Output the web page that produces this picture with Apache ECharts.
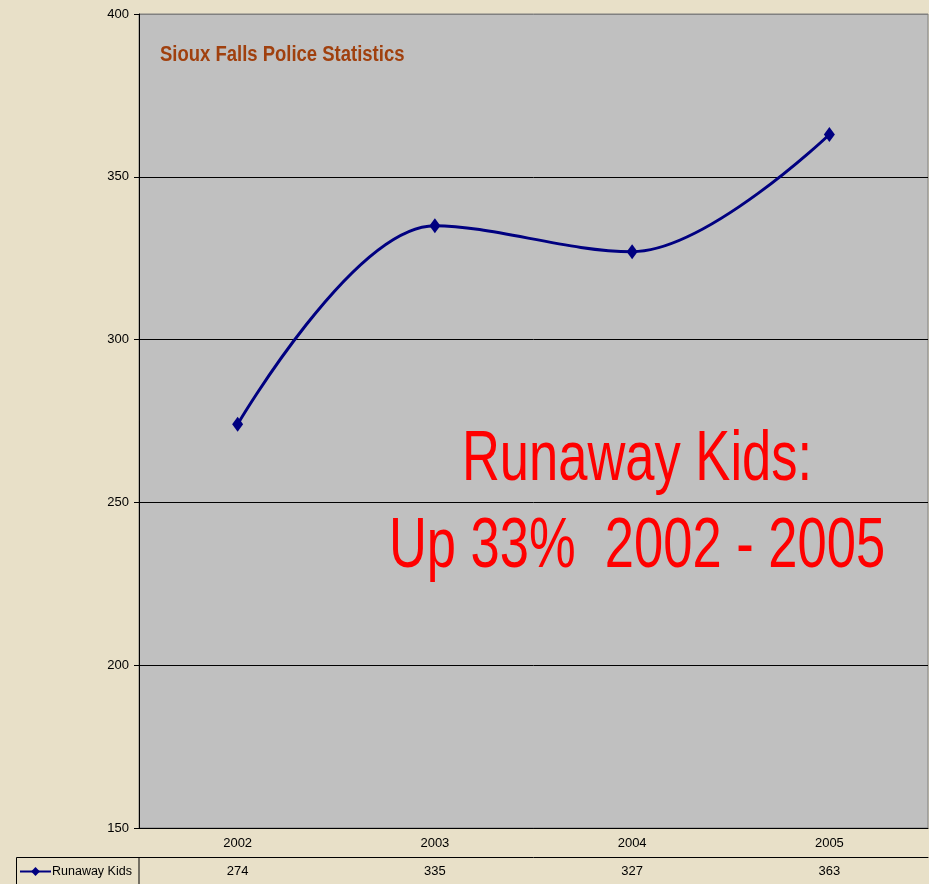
<!DOCTYPE html>
<html>
<head>
<meta charset="utf-8">
<title>Runaway Kids</title>
<script src="https://cdn.jsdelivr.net/npm/echarts@6/dist/echarts.min.js"></script>
<style>
    html, body { margin: 0; padding: 0; background: #e8e0c8; }
    #main { width: 929px; height: 884px; }
</style>
</head>
<body>
<div id="main"></div>
<script>
    // data
    var years = ['2002', '2003', '2004', '2005'];
    var runawayKids = [274, 335, 327, 363];
    var seriesName = 'Runaway Kids';
    var yTicks = [150, 200, 250, 300, 350, 400];

    // no narrow font installed, so the big texts get squeezed with scaleX
    var sans = "'Liberation Sans', Arial, sans-serif";

    var chart = echarts.init(document.getElementById('main'));
    var option = {
        backgroundColor: '#e8e0c8',
        animation: false,
        legend: {
            data: [seriesName],
            left: 19,
            top: 865,
            padding: 0,
            itemWidth: 31,
            itemHeight: 11,
            textStyle: { color: '#000', fontFamily: sans, fontSize: 12.5, padding: [0, 0, 0, -4] }
        },
        grid: {
            left: 139,
            right: 1,
            top: 14,
            bottom: 56,
            show: true,
            backgroundColor: '#c0c0c0',
            borderColor: '#808080',
            borderWidth: 1
        },
        xAxis: [
            {
                type: 'category',
                data: years,
                position: 'bottom',
                boundaryGap: true,
                axisLine: { lineStyle: { color: '#000', width: 1 } },
                axisTick: { length: 29, lineStyle: { color: '#000' } },
                axisLabel: { color: '#000', fontFamily: sans, fontSize: 13, margin: 9 }
            },
            {
                type: 'category',
                data: runawayKids.map(String),
                position: 'bottom',
                offset: 29,
                boundaryGap: true,
                axisLine: { lineStyle: { color: '#000', width: 1 } },
                axisTick: { length: 28, lineStyle: { color: '#000' } },
                axisLabel: { color: '#000', fontFamily: sans, fontSize: 13, margin: 8 }
            }
        ],
        yAxis: {
            type: 'value',
            min: yTicks[0],
            max: yTicks[yTicks.length - 1],
            interval: 50,
            axisLine: { show: true, lineStyle: { color: '#000' } },
            axisTick: { show: true, length: 5, lineStyle: { color: '#000' } },
            axisLabel: { color: '#000', fontFamily: sans, fontSize: 13, margin: 10 },
            splitLine: {
                show: true,
                lineStyle: { color: ['#000', '#000', '#000', '#000', '#000', '#808080'], width: 1 }
            }
        },
        series: [
            {
                name: seriesName,
                type: 'line',
                xAxisIndex: 0,
                data: runawayKids,
                smooth: 0.35,
                symbol: 'diamond',
                symbolSize: [11, 15],
                itemStyle: { color: '#000080' },
                lineStyle: { color: '#000080', width: 3 }
            }
        ],
        graphic: [
            {
                type: 'rect',
                shape: { x: 16.5, y: 857.5, width: 122.5, height: 40 },
                style: { fill: 'none', stroke: '#000', lineWidth: 1 },
                silent: true
            },
            {
                type: 'text',
                x: 160,
                y: 55,
                scaleX: 0.84,
                style: {
                    text: 'Sioux Falls Police Statistics',
                    fill: '#a0400e',
                    font: "bold 22px 'Liberation Sans', Arial, sans-serif",
                    textAlign: 'left',
                    textVerticalAlign: 'middle'
                }
            },
            {
                type: 'text',
                x: 637,
                y: 461,
                scaleX: 0.75,
                style: {
                    text: 'Runaway Kids:',
                    fill: '#ff0000',
                    font: "70px 'Liberation Sans', Arial, sans-serif",
                    textAlign: 'center',
                    textVerticalAlign: 'middle'
                }
            },
            {
                type: 'text',
                x: 637,
                y: 548,
                scaleX: 0.75,
                style: {
                    text: 'Up 33%  2002 - 2005',
                    fill: '#ff0000',
                    font: "70px 'Liberation Sans', Arial, sans-serif",
                    textAlign: 'center',
                    textVerticalAlign: 'middle'
                }
            }
        ]
    };
    chart.setOption(option);
</script>
</body>
</html>
